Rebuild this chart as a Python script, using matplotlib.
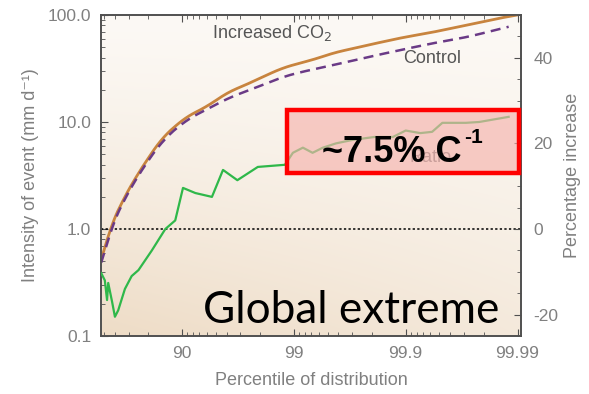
import numpy as np
import matplotlib
matplotlib.use("Agg")
import matplotlib.pyplot as plt
from matplotlib.patches import Rectangle

# percentile of distribution for each curve
pct_inc = [47.2, 54.2, 65.6, 73.7, 79.9, 84.9, 90.6, 93.8, 96.1, 97.26, 98.07, 98.72, 99.12,
           99.35, 99.55, 99.78, 99.887, 99.943, 99.9715, 99.9855, 99.9898]
inc_co2 = [0.55, 0.98, 1.87, 3.06, 4.71, 7.24, 11.1, 13.8, 19.1, 22.2, 26.4, 32.0, 35.7,
           38.8, 44.2, 52.4, 61.0, 69.3, 80.7, 93.7, 100.0]

pct_ctl = [47.2, 54.2, 65.6, 73.7, 79.9, 84.9, 90.6, 96.1, 98.07, 98.72, 99.12, 99.55,
           99.78, 99.887, 99.943, 99.9715, 99.988]
control = [0.52, 0.95, 1.8, 2.95, 4.5, 6.8, 10.4, 16.8, 22.2, 26.4, 29.3, 34.1,
           40.5, 47.1, 54.7, 62.3, 78.0]

# percentage increase (right axis)
pct_rat = [47.2, 51.0, 53.2, 54.3, 57.8, 60.2, 62.8, 67.6, 71.8, 75.5, 81.4, 85.9, 88.5,
           90.2, 92.4, 94.6, 95.7, 96.8, 97.9, 98.8, 98.98, 99.17, 99.32, 99.45, 99.58,
           99.70, 99.81, 99.87, 99.90, 99.926, 99.942, 99.953, 99.971, 99.978, 99.988]
ratio = [-10.3, -12.0, -16.6, -12.6, -17.0, -20.5, -19.0, -14.0, -11.0, -9.6, -5.0, 0.0, 2.0,
         9.6, 8.4, 7.5, 13.8, 11.4, 14.5, 15.0, 17.8, 19.0, 17.8, 19.0, 20.0,
         20.8, 21.5, 21.5, 23.0, 22.4, 22.7, 24.8, 24.8, 25.0, 26.2]

xticks = [90, 99, 99.9, 99.99]
xticklabels = ["90", "99", "99.9", "99.99"]
xminor = [50, 60, 70, 80, 91, 92, 93, 94, 95, 96, 97, 98,
          99.1, 99.2, 99.3, 99.4, 99.5, 99.6, 99.7, 99.8,
          99.91, 99.92, 99.93, 99.94, 99.95, 99.96, 99.97, 99.98]
yticks = [0.1, 1.0, 10.0, 100.0]
yticklabels = ["0.1", "1.0", "10.0", "100.0"]
rticks = [-20, 0, 20, 40]


def fwd(p):
    p = np.asarray(p, dtype=float)
    return -np.log10(np.clip(1 - p / 100.0, 1e-9, None))


def inv(t):
    return 100.0 * (1 - 10.0 ** (-np.asarray(t, dtype=float)))


def smooth(xs, ys, n=12):
    # densify in scale space and round off the corners, ends kept in place
    t = fwd(xs)
    v = np.log10(ys)
    tt = np.linspace(t[0], t[-1], len(t) * n)
    vv = np.interp(tt, t, v)
    head = 2 * vv[0] - vv[n:0:-1]
    tail = 2 * vv[-1] - vv[-2:-n - 2:-1]
    pad = np.concatenate([head, vv, tail])
    vv = np.convolve(pad, np.ones(n) / n, mode='same')[n:-n]
    return inv(tt), 10 ** vv


plt.rcParams['font.family'] = ['Liberation Sans', 'DejaVu Sans']
plt.rcParams['axes.unicode_minus'] = False
grey = '#808080'
spine_c = '#505050'

fig = plt.figure(figsize=(5.89, 3.94), dpi=100, facecolor='white')
ax = fig.add_axes([0.1715, 0.1472, 0.7131, 0.8148])
ax.set_xscale('function', functions=(fwd, inv))
ax.set_yscale('log')
ax.set_xlim(47.0, 99.9907)
ax.set_ylim(0.1, 100)

# warm background shading, darker toward the lower left
gx, gy = np.meshgrid(np.linspace(0, 1, 200), np.linspace(0, 1, 200))
w = (1 - gy) ** 1.3 * (0.55 + 0.45 * (1 - gx))
top_c = np.array([252, 249, 245]) / 255.0
bot_c = np.array([238, 220, 198]) / 255.0
img = top_c[None, None, :] + w[:, :, None] * (bot_c - top_c)[None, None, :]
ax.imshow(img, extent=[0, 1, 0, 1], origin='lower', transform=ax.transAxes,
          aspect='auto', zorder=0, interpolation='bilinear')

ax.axhline(1.0, color='black', linestyle=(0, (1.5, 1.5)), linewidth=1.1, zorder=2)
xi, yi = smooth(pct_inc, inc_co2)
ax.plot(xi, yi, color='#c8843e', linewidth=2.0, zorder=3)
xc, yc = smooth(pct_ctl, control)
ax.plot(xc, yc, color='#6a3a86', linewidth=1.8, linestyle=(0, (4, 2.5)), zorder=4)

ax.text(94.6, 68, 'Increased CO$_2$', color='#555555', fontsize=13, va='center')
ax.text(99.894, 39.6, 'Control', color='#555555', fontsize=13, va='center')

ax.set_xticks(xticks)
ax.set_xticklabels(xticklabels)
ax.set_xticks(xminor, minor=True)
ax.set_yticks(yticks)
ax.set_yticklabels(yticklabels)
ax.tick_params(which='both', direction='in', top=True, colors=spine_c,
               labelcolor=grey, labelsize=12.5)
ax.tick_params(which='major', length=5, pad=7)
ax.tick_params(which='minor', length=3)
ax.set_xlabel('Percentile of distribution', color=grey, fontsize=13, labelpad=8)
ax.set_ylabel('Intensity of event (mm d⁻¹)', color=grey, fontsize=13, labelpad=6)

ax2 = ax.twinx()
ax2.set_ylim(-25, 50)
ax2.plot(pct_rat, ratio, color='#2fb84a', linewidth=1.6, zorder=3)
ax2.text(99.908, 16.8, 'Ratio', color='#777777', fontsize=13, va='center')
ax2.set_yticks(rticks)
ax2.set_yticks(np.arange(-25, 51, 5), minor=True)
ax2.tick_params(which='both', direction='in', colors=spine_c, labelcolor=grey, labelsize=12.5)
ax2.tick_params(which='major', length=5, pad=9)
ax2.tick_params(which='minor', length=3)
ax2.set_ylabel('Percentage increase', color=grey, fontsize=13, labelpad=4)

for a in (ax, ax2):
    for s in a.spines.values():
        s.set_color(spine_c)
        s.set_linewidth(1.2)

# highlighted scaling box
box = Rectangle((287 / 589, 1 - 173 / 394), 232 / 589, 63 / 394, transform=fig.transFigure,
                facecolor=(0.96, 0.70, 0.68), alpha=0.65, edgecolor='none', zorder=1)
edge = Rectangle((287 / 589, 1 - 173 / 394), 232 / 589, 63 / 394, transform=fig.transFigure,
                 facecolor='none', edgecolor='#ff0000', linewidth=3.2, zorder=2)
fig.add_artist(box)
fig.add_artist(edge)
fig.text(322 / 589, 1 - 162 / 394, '~7.5% C', fontsize=26, fontweight='bold',
         color='black', ha='left', va='baseline', zorder=5)
fig.text(464 / 589, 1 - 143 / 394, '-1', fontsize=15, fontweight='bold',
         color='black', ha='left', va='baseline', zorder=5)

fig.text(203 / 589, 1 - 323 / 394, 'Global extreme', family=['Lato', 'DejaVu Sans'],
         fontsize=31.8, color='black', ha='left', va='baseline', zorder=5)

fig.savefig('out.png', dpi=100, facecolor='white')
